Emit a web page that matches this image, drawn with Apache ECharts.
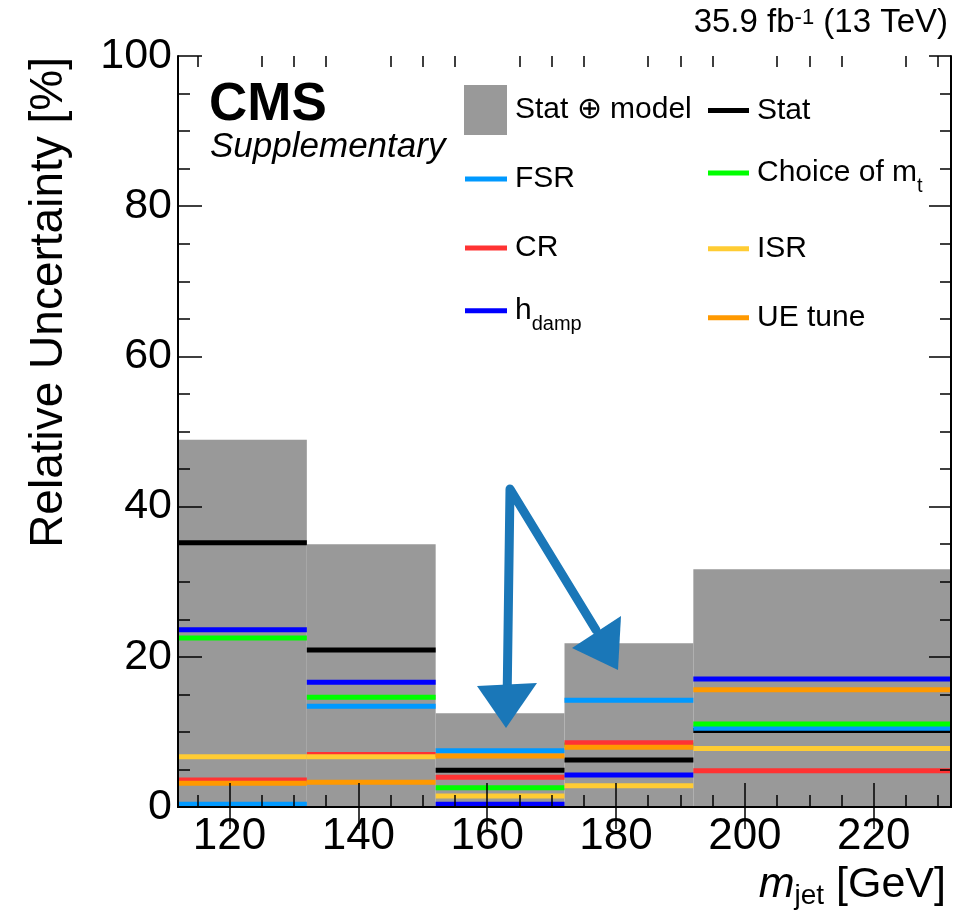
<!DOCTYPE html>
<html><head><meta charset="utf-8">
<script src="https://cdn.jsdelivr.net/npm/echarts@6/dist/echarts.min.js"></script>
<style>html,body{margin:0;padding:0;background:#fff}#c{width:957px;height:919px}</style>
</head><body><div id="c"></div>
<script>
// ---- data ----
const binEdges = [112, 132, 152, 172, 192, 232];
const statModel = [48.9, 35.0, 12.5, 21.8, 31.65];
const stat      = [35.2, 20.9, 4.9, 6.26, 10.2];
const fsr       = [0.36, 13.4, 7.5, 14.2, 10.5];
const choiceMt  = [22.5, 14.6, 2.57, 8.25, 11.05];
const cr        = [3.6, 7.0, 3.95, 8.56, 4.83];
const isr       = [6.7, 6.7, 1.46, 2.84, 7.8];
const ueTune    = [3.15, 3.3, 6.8, 7.95, 15.6];
const hdamp     = [23.6, 16.6, 0.36, 4.26, 17.04];
const majorTicksX = [120, 140, 160, 180, 200, 220];
const minorTicksX = [115, 125, 130, 135, 145, 150, 155, 165, 170, 175, 185, 190, 195, 205, 210, 215, 225, 230];

const FONT = '"Liberation Sans", Helvetica, Arial, sans-serif';

function binData(vals) { return vals.map((v, i) => [binEdges[i], binEdges[i + 1], v]); }

function renderBar(params, api) {
  const p0 = api.coord([api.value(0), api.value(2)]);
  const p1 = api.coord([api.value(1), 0]);
  return { type: 'rect', shape: { x: p0[0], y: p0[1], width: p1[0] - p0[0], height: p1[1] - p0[1] },
           style: { fill: api.visual('color') } };
}
function renderSeg(params, api) {
  const p0 = api.coord([api.value(0), api.value(2)]);
  const p1 = api.coord([api.value(1), api.value(2)]);
  return { type: 'line', shape: { x1: p0[0], y1: p0[1], x2: p1[0], y2: p1[1] },
           style: { stroke: api.visual('color'), lineWidth: 5 } };
}
function segSeries(name, vals, color) {
  return { name: name, type: 'custom', renderItem: renderSeg, data: binData(vals),
           encode: { x: [0, 1], y: 2 }, itemStyle: { color: color }, z: 2, silent: true };
}

const blackLine = { color: '#000', width: 2 };
const tickStyle = { color: '#000', width: 1.5 };
const legendRich = {
  m: { fontSize: 30, lineHeight: 30, verticalAlign: 'top', fontFamily: FONT, color: '#000' },
  s: { fontSize: 20, lineHeight: 20, verticalAlign: 'top', padding: [18.5, 0, 4.5, 0], fontFamily: FONT, color: '#000' }
};
const legendText = { fontFamily: FONT, fontSize: 30, color: '#000', lineHeight: 43, padding: [0, 0, 0, 3], rich: legendRich };
function legendFmt(name) {
  if (name === 'h_damp') return '{m|h}{s|damp}';
  if (name === 'Choice of m_t') return '{m|Choice of m}{s|t}';
  return name;
}

const chart = echarts.init(document.getElementById('c'), null, { renderer: 'canvas' });
chart.setOption({
  animation: false,
  backgroundColor: '#fff',
  grid: [
    { left: 178, top: 56, right: 6, bottom: 112, show: false },
    { left: 178, top: 56, right: 6, bottom: 112, show: false }
  ],
  xAxis: [
    { gridIndex: 0, type: 'value', position: 'bottom', min: 112, max: 232, z: 10,
      axisLine: { show: true, lineStyle: blackLine },
      axisTick: { show: true, inside: true, length: 24, customValues: majorTicksX, lineStyle: tickStyle },
      axisLabel: { show: true, customValues: majorTicksX, fontSize: 44, fontFamily: FONT, color: '#000', margin: 8 },
      splitLine: { show: false } },
    { gridIndex: 0, type: 'value', position: 'top', min: 112, max: 232, z: 10,
      axisLine: { show: true, lineStyle: blackLine },
      axisTick: { show: true, inside: true, length: 22, customValues: majorTicksX, lineStyle: tickStyle },
      axisLabel: { show: false }, splitLine: { show: false } },
    { gridIndex: 1, type: 'value', position: 'bottom', min: 112, max: 232, z: 10,
      axisLine: { show: false },
      axisTick: { show: true, inside: true, length: 12, customValues: minorTicksX, lineStyle: tickStyle },
      axisLabel: { show: false }, splitLine: { show: false } },
    { gridIndex: 1, type: 'value', position: 'top', min: 112, max: 232, z: 10,
      axisLine: { show: false },
      axisTick: { show: true, inside: true, length: 11, customValues: minorTicksX, lineStyle: tickStyle },
      axisLabel: { show: false }, splitLine: { show: false } }
  ],
  yAxis: [
    { gridIndex: 0, type: 'value', position: 'left', min: 0, max: 100, interval: 20, z: 10,
      axisLine: { show: true, lineStyle: blackLine },
      axisTick: { show: true, inside: true, length: 24, lineStyle: tickStyle },
      minorTick: { show: true, splitNumber: 4, length: 12, lineStyle: tickStyle },
      axisLabel: { fontSize: 43, fontFamily: FONT, color: '#000', margin: 6 },
      splitLine: { show: false }, minorSplitLine: { show: false } },
    { gridIndex: 0, type: 'value', position: 'right', min: 0, max: 100, interval: 20, z: 10,
      axisLine: { show: true, lineStyle: blackLine },
      axisTick: { show: true, inside: true, length: 22, lineStyle: tickStyle },
      minorTick: { show: true, splitNumber: 4, length: 11, lineStyle: tickStyle },
      axisLabel: { show: false }, splitLine: { show: false } },
    { gridIndex: 1, type: 'value', min: 0, max: 100, show: false }
  ],
  legend: [
    { data: [{ name: 'Stat ⊕ model', icon: 'rect' }], left: 464, top: 85, padding: 0,
      itemWidth: 43, itemHeight: 50, selectedMode: false, textStyle: legendText },
    { data: ['FSR', 'CR', 'h_damp'], orient: 'vertical', left: 465, top: 157.5, padding: 0,
      itemWidth: 42, itemHeight: 5, itemGap: 26.1, icon: 'rect', selectedMode: false,
      formatter: legendFmt, textStyle: legendText },
    { data: ['Stat', 'Choice of m_t', 'ISR', 'UE tune'], orient: 'vertical', left: 708, top: 89, padding: 0,
      itemWidth: 41, itemHeight: 5, itemGap: 26.1, icon: 'rect', selectedMode: false,
      formatter: legendFmt, textStyle: legendText }
  ],
  series: [
    { name: 'Stat ⊕ model', type: 'custom', renderItem: renderBar, data: binData(statModel),
      encode: { x: [0, 1], y: 2 }, itemStyle: { color: '#999999' }, z: 2, silent: true },
    segSeries('Stat', stat, '#000000'),
    segSeries('FSR', fsr, '#0099ff'),
    segSeries('Choice of m_t', choiceMt, '#00ff00'),
    segSeries('CR', cr, '#ff3333'),
    segSeries('ISR', isr, '#ffcc33'),
    segSeries('UE tune', ueTune, '#ff9900'),
    segSeries('h_damp', hdamp, '#0000ff')
  ],
  graphic: [
    { type: 'text', x: 209, y: 105.5, z: 50,
      style: { text: 'CMS', fontFamily: FONT, fontSize: 53, fontWeight: 'bold', fill: '#000', align: 'left', verticalAlign: 'middle' } },
    { type: 'text', x: 210, y: 147.2, z: 50,
      style: { text: 'Supplementary', fontFamily: FONT, fontSize: 35, fontStyle: 'italic', fill: '#000', align: 'left', verticalAlign: 'middle' } },
    { type: 'text', x: 948, y: 6.9, z: 50,
      style: { text: '{n|35.9 fb}{p|-1}{n| (13 TeV)}', align: 'right', verticalAlign: 'top', fill: '#000',
        rich: { n: { fontFamily: FONT, fontSize: 33, lineHeight: 33, padding: [5.2, 0, 0, 0], verticalAlign: 'bottom', color: '#000' },
                p: { fontFamily: FONT, fontSize: 22, lineHeight: 22, verticalAlign: 'top', color: '#000' } } } },
    { type: 'text', x: 49, y: 57, rotation: Math.PI / 2, z: 50,
      style: { text: 'Relative Uncertainty [%]', fontFamily: FONT, fontSize: 46, fill: '#000', align: 'right', verticalAlign: 'middle' } },
    { type: 'text', x: 946, y: 864, z: 50,
      style: { text: '{i|m}{s|jet}{n| [GeV]}', align: 'right', verticalAlign: 'top', fill: '#000',
        rich: { i: { fontFamily: FONT, fontSize: 43, fontStyle: 'italic', lineHeight: 43, verticalAlign: 'top', color: '#000' },
                s: { fontFamily: FONT, fontSize: 28, lineHeight: 28, verticalAlign: 'top', padding: [18, 0, 0, 0], color: '#000' },
                n: { fontFamily: FONT, fontSize: 43, lineHeight: 43, verticalAlign: 'top', color: '#000' } } } },
    // hand-drawn annotation arrows
    { type: 'polyline', z: 100, shape: { points: [[507, 705], [510, 489], [596, 630]] },
      style: { stroke: '#1a77b8', lineWidth: 9, fill: null, lineJoin: 'round', lineCap: 'round' } },
    { type: 'polygon', z: 100, shape: { points: [[477, 686], [537, 683], [506, 728]] }, style: { fill: '#1a77b8' } },
    { type: 'polygon', z: 100, shape: { points: [[572, 648], [621, 616], [618, 670]] }, style: { fill: '#1a77b8' } }
  ]
});
</script>
</body></html>
